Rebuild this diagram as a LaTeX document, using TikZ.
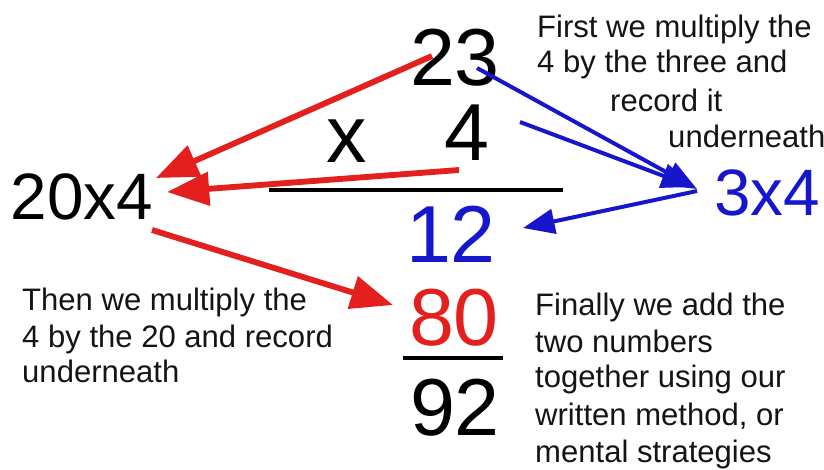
\documentclass[tikz,border=0pt]{standalone}
\usepackage{fontspec}
\setmainfont{Liberation Sans}
\usepackage{tikz}
\usetikzlibrary{calc,arrows.meta}
\usetikzlibrary{positioning}
\definecolor{sum-red}{HTML}{E3201E}
\definecolor{sum-blue}{HTML}{1616CC}
\definecolor{sum-text}{HTML}{141414}

\begin{document}
\begin{tikzpicture}[x=0.03cm, y=-0.03cm,
    bignum/.style={inner sep=0pt, anchor=base, font=\fontsize{69}{80}\selectfont},
    midnum/.style={inner sep=0pt, anchor=base, font=\fontsize{56}{64}\selectfont},
    note/.style={inner sep=0pt, anchor=base west, text=sum-text, font=\fontsize{26.5}{31}\selectfont},
    redarrow/.style={sum-red, line width=5pt, -{Triangle[length=36pt, width=28pt]}},
    bluearrow/.style={sum-blue, line width=3.4pt, -{Triangle[length=27pt, width=21pt]}}]
    \useasboundingbox (0,0) rectangle (824,469);

    % The written sum
    \node[bignum] (n23) at (455,85) {23};
    \node[bignum] (nx) at (347,162) {x};
    \node[bignum] (n4) at (467,160) {4};
    \draw[black, line width=4pt] (269,190) -- (563,190);
    \node[bignum, text=sum-blue] (n12) at (451,262) {12};
    \node[bignum, text=sum-red] (n80) at (454,345) {80};
    \draw[black, line width=3.4pt] (403,358) -- (503,358);
    \node[bignum] (n92) at (455,435) {92};

    % Partial products
    \node[midnum] (n20x4) at (82,219) {20x4};
    \node[midnum, text=sum-blue] (n3x4) at (767,215) {3x4};

    % Tens step (red)
    \draw[redarrow] ($(n23.base)+(-23,-29)$) -- ($(n20x4.base)+(74,-41)$);
    \draw[redarrow] ($(n4.base)+(-8,10)$) -- ($(n20x4.base)+(85,-27)$);
    \draw[redarrow] ($(n20x4.base)+(70,11)$) -- ($(n80.base)+(-61,-40)$);

    % Ones step (blue)
    \draw[bluearrow] ($(n23.base)+(22,-17)$) -- ($(n3x4.base)+(-70,-26)$);
    \draw[bluearrow] ($(n4.base)+(53,-38)$) -- ($(n3x4.base)+(-74,-28)$);
    \draw[bluearrow] ($(n3x4.base)+(-70,-24)$) -- ($(n12.base)+(72,-34)$);

    % Notes
    \node[note] (first1) at (537,37) {First we multiply the};
    \node[note] (first2) at (537,72) {4 by the three and};
    \node[note] (first3) at (610,111) {record it};
    \node[note] (first4) at (668,147) {underneath};

    \node[note] (then1) at (22,310) {Then we multiply the};
    \node[note] (then2) at (22,347) {4 by the 20 and record};
    \node[note] (then3) at (22,382) {underneath};

    \node[note] (fin1) at (535,315) {Finally we add the};
    \node[note] (fin2) at (535,352) {two numbers};
    \node[note] (fin3) at (535,387) {together using our};
    \node[note] (fin4) at (535,425) {written method, or};
    \node[note] (fin5) at (535,462) {mental strategies};

\end{tikzpicture}
\end{document}
